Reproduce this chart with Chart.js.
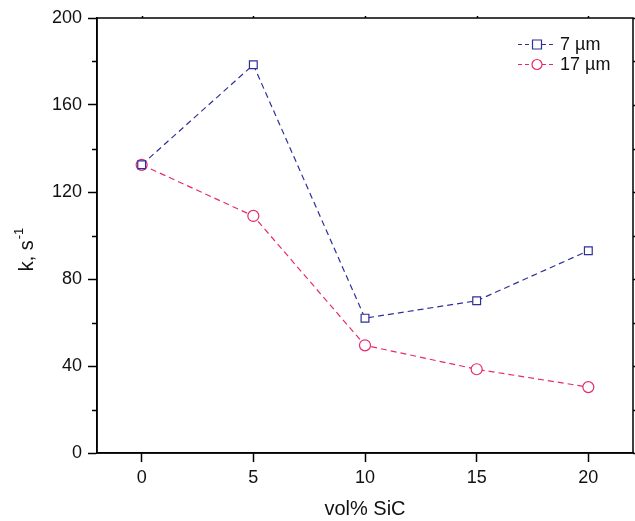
<!DOCTYPE html>
<html>
<head>
<meta charset="utf-8">
<script src="https://cdn.jsdelivr.net/npm/chart.js@4"></script>
<style>
  html, body { margin: 0; padding: 0; background: #fff; }
  #wrap { width: 635px; height: 521px; }
</style>
</head>
<body>
<div id="wrap"><canvas id="kChart" width="635" height="521"></canvas></div>
<script>
// vol% SiC
const sicContent = [0, 5, 10, 15, 20];
// rate constant k, s^-1
const k7um = [132.5, 178.5, 62, 70, 93];
const k17um = [132.5, 109, 49.5, 38.5, 30.3];
const seriesLabels = ['7 \u00b5m', '17 \u00b5m'];
const xTicks = [0, 5, 10, 15, 20];
const yTicks = [0, 40, 80, 120, 160, 200];
const yMinorTicks = [20, 60, 100, 140, 180];

const blue = '#2e2f98';
const pink = '#e8286e';
const font = 'Liberation Sans, Arial, sans-serif';

// frame, mirrored ticks, minor ticks, y title and legend
const framePlugin = {
    id: 'frame',
    afterDraw(chart) {
        const ctx = chart.ctx;
        const a = chart.chartArea;
        const xs = chart.scales.x, ys = chart.scales.y;
        ctx.save();
        ctx.strokeStyle = '#000';
        ctx.lineWidth = 1.5;
        ctx.strokeRect(a.left, a.top, a.right - a.left, a.bottom - a.top);

        ctx.beginPath();
        yMinorTicks.forEach(v => {
            const y = Math.round(ys.getPixelForValue(v)) + 0.5;
            ctx.moveTo(a.left - 5, y); ctx.lineTo(a.left, y);
        });
        // short outward ticks on right and top
        yTicks.concat(yMinorTicks).forEach(v => {
            const y = Math.round(ys.getPixelForValue(v)) + 0.5;
            ctx.moveTo(a.right, y); ctx.lineTo(a.right + 2, y);
        });
        xTicks.forEach(v => {
            const x = Math.round(xs.getPixelForValue(v)) + 0.5;
            ctx.moveTo(x, a.top); ctx.lineTo(x, a.top - 2);
        });
        ctx.stroke();

        // y axis title with superscript
        ctx.save();
        ctx.translate(27, 250);
        ctx.rotate(-Math.PI / 2);
        ctx.fillStyle = '#111';
        ctx.textBaseline = 'middle';
        ctx.textAlign = 'left';
        ctx.font = '20px ' + font;
        const main = 'k, s';
        const mw = ctx.measureText(main).width;
        ctx.font = '13px ' + font;
        const sup = '-1';
        const sw = ctx.measureText(sup).width;
        const start = -(mw + sw) / 2;
        ctx.font = '20px ' + font;
        ctx.fillText(main, start, 0);
        ctx.font = '13px ' + font;
        ctx.fillText(sup, start + mw + 1, -8);
        ctx.restore();

        // legend
        const items = [
            { label: seriesLabels[0], color: blue, style: 'rect' },
            { label: seriesLabels[1], color: pink, style: 'circle' }
        ];
        items.forEach((it, i) => {
            const y = 44 + i * 20;
            const x0 = 518, x1 = 555, xm = 537;
            ctx.strokeStyle = it.color;
            ctx.lineWidth = 1.2;
            ctx.setLineDash([4, 3]);
            ctx.beginPath();
            ctx.moveTo(x0, y + 0.5); ctx.lineTo(xm - 5, y + 0.5);
            ctx.moveTo(xm + 5, y + 0.5); ctx.lineTo(x1, y + 0.5);
            ctx.stroke();
            ctx.setLineDash([]);
            ctx.beginPath();
            if (it.style === 'rect') {
                ctx.rect(xm - 4.5, y - 4, 9, 9);
            } else {
                ctx.arc(xm, y + 0.5, 5, 0, Math.PI * 2);
            }
            ctx.fillStyle = '#fff';
            ctx.fill();
            ctx.stroke();
            ctx.fillStyle = '#111';
            ctx.font = '18px ' + font;
            ctx.textBaseline = 'middle';
            ctx.textAlign = 'left';
            ctx.fillText(it.label, 560, y + 1);
        });
        ctx.restore();
    }
};

const ctx = document.getElementById('kChart').getContext('2d');
new Chart(ctx, {
    type: 'line',
    data: {
        datasets: [{
            label: seriesLabels[0],
            data: sicContent.map((x, i) => ({ x: x, y: k7um[i] })),
            borderColor: blue,
            backgroundColor: '#fff',
            borderWidth: 1.2,
            borderDash: [6, 4],
            pointStyle: 'rect',
            pointRadius: 5.5,
            pointBorderWidth: 1.2,
            pointBorderColor: blue,
            pointBackgroundColor: '#fff'
        }, {
            label: seriesLabels[1],
            data: sicContent.map((x, i) => ({ x: x, y: k17um[i] })),
            borderColor: pink,
            backgroundColor: '#fff',
            borderWidth: 1.2,
            borderDash: [6, 4],
            pointStyle: 'circle',
            pointRadius: 5.5,
            pointBorderWidth: 1.2,
            pointBorderColor: pink,
            pointBackgroundColor: '#fff'
        }]
    },
    options: {
        responsive: false,
        animation: false,
        layout: {
            autoPadding: false,
            padding: { top: 18, right: 2, left: 0, bottom: 0 }
        },
        plugins: {
            legend: { display: false },
            tooltip: { enabled: false }
        },
        scales: {
            x: {
                type: 'linear',
                min: -2,
                max: 22,
                afterBuildTicks: s => { s.ticks = xTicks.map(v => ({ value: v })); },
                afterFit: s => {
                    s.height = 68;
                    s.paddingLeft = 0;
                    s.paddingRight = 0;
                },
                grid: {
                    drawOnChartArea: false,
                    tickLength: 9,
                    tickWidth: 1.5,
                    color: '#000'
                },
                border: { color: '#000', width: 1.5 },
                ticks: {
                    color: '#111',
                    font: { family: font, size: 18 },
                    padding: 5
                },
                title: {
                    display: true,
                    text: 'vol% SiC',
                    color: '#111',
                    font: { family: font, size: 20 },
                    padding: { top: 3, bottom: 0 }
                }
            },
            y: {
                min: 0,
                max: 200,
                afterBuildTicks: s => { s.ticks = yTicks.map(v => ({ value: v })); },
                afterFit: s => {
                    s.width = 97;
                    s.paddingTop = 0;
                    s.paddingBottom = 0;
                },
                grid: {
                    drawOnChartArea: false,
                    tickLength: 9,
                    tickWidth: 1.5,
                    color: '#000'
                },
                border: { color: '#000', width: 1.5 },
                ticks: {
                    color: '#111',
                    font: { family: font, size: 18 },
                    padding: 6
                },
                title: { display: false }
            }
        }
    },
    plugins: [framePlugin]
});
</script>
</body>
</html>
